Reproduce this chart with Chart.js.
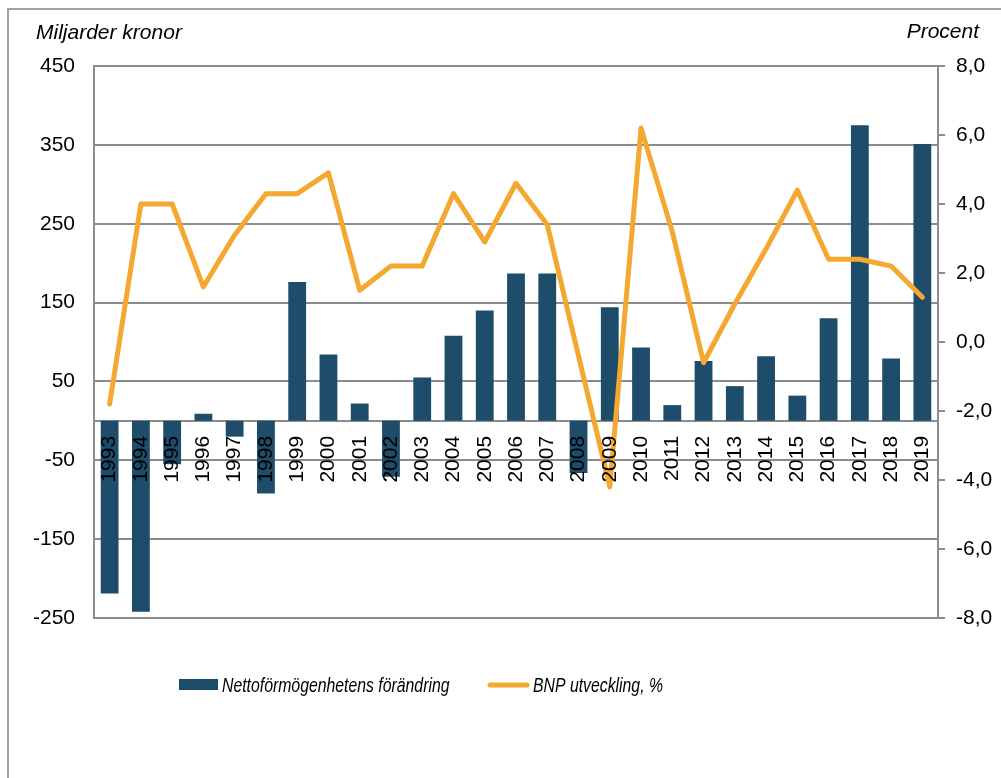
<!DOCTYPE html>
<html>
<head>
<meta charset="utf-8">
<script src="https://cdn.jsdelivr.net/npm/chart.js@4/dist/chart.umd.min.js"></script>
<style>
  html, body { margin: 0; padding: 0; background: #fff; }
  #wrap { width: 1001px; height: 778px; position: relative; }
</style>
</head>
<body>
<div id="wrap"><canvas id="chart" width="1001" height="778"></canvas></div>
<script>
// Years on the category axis
const years = [
  "1993", "1994", "1995", "1996", "1997", "1998", "1999", "2000", "2001",
  "2002", "2003", "2004", "2005", "2006", "2007", "2008", "2009", "2010",
  "2011", "2012", "2013", "2014", "2015", "2016", "2017", "2018", "2019"
];

// Nettoförmögenhetens förändring, miljarder kronor (left axis)
const netWorthChange = [
  -219, -242, -55, 9, -20, -92, 176, 84, 22,
  -71, 55, 108, 140, 187, 187, -66, 144, 93,
  20, 76, 44, 82, 32, 130, 375, 79, 351
];

// BNP utveckling, procent (right axis)
const gdpGrowth = [
  -1.8, 4.0, 4.0, 1.6, 3.1, 4.3, 4.3, 4.9, 1.5,
  2.2, 2.2, 4.3, 2.9, 4.6, 3.4, -0.4, -4.2, 6.2,
  3.2, -0.6, 1.1, 2.7, 4.4, 2.4, 2.4, 2.2, 1.3
];

const leftTitle = "Miljarder kronor";
const rightTitle = "Procent";
const barLabel = "Nettoförmögenhetens förändring";
const lineLabel = "BNP utveckling, %";

const BAR_COLOR = "#1e4d6b";
const LINE_COLOR = "#f4a82f";
const GRID_COLOR = "#8c8c8c";
const FONT = "'Liberation Sans', Arial, sans-serif";

Chart.defaults.font.family = FONT;
Chart.defaults.color = "#000";

// Frame, axis titles and the legend row are painted by hand
const decorPlugin = {
  id: "decor",
  beforeDraw(chart) {
    const ctx = chart.ctx;
    ctx.save();
    ctx.fillStyle = "#fff";
    ctx.fillRect(0, 0, chart.width, chart.height);
    ctx.strokeStyle = "#a0a0a0";
    ctx.lineWidth = 2;
    ctx.beginPath();
    ctx.moveTo(8, chart.height);
    ctx.lineTo(8, 9);
    ctx.lineTo(chart.width, 9);
    ctx.stroke();
    ctx.restore();
  },
  afterDraw(chart) {
    const ctx = chart.ctx;
    ctx.save();
    ctx.fillStyle = "#000";
    ctx.font = "italic 21px " + FONT;
    ctx.textBaseline = "alphabetic";
    ctx.textAlign = "left";
    ctx.fillText(leftTitle, 36, 39);
    ctx.textAlign = "right";
    ctx.fillText(rightTitle, 979, 38);

    // legend
    ctx.fillStyle = BAR_COLOR;
    ctx.fillRect(179, 679, 39, 11);
    ctx.strokeStyle = LINE_COLOR;
    ctx.lineWidth = 5;
    ctx.lineCap = "round";
    ctx.beginPath();
    ctx.moveTo(490, 685);
    ctx.lineTo(527, 685);
    ctx.stroke();

    ctx.fillStyle = "#000";
    ctx.font = "italic 20px " + FONT;
    ctx.textAlign = "left";
    ctx.save();
    ctx.translate(222, 692);
    ctx.scale(0.79, 1);
    ctx.fillText(barLabel, 0, 0);
    ctx.restore();
    ctx.save();
    ctx.translate(533, 692);
    ctx.scale(0.79, 1);
    ctx.fillText(lineLabel, 0, 0);
    ctx.restore();
    ctx.restore();
  }
};

new Chart(document.getElementById("chart").getContext("2d"), {
  data: {
    labels: years,
    datasets: [
      {
        type: "line",
        label: lineLabel,
        data: gdpGrowth,
        yAxisID: "y1",
        borderColor: LINE_COLOR,
        borderWidth: 5,
        borderCapStyle: "round",
        borderJoinStyle: "round",
        pointRadius: 0,
        tension: 0,
        fill: false,
        order: 0
      },
      {
        type: "bar",
        label: barLabel,
        data: netWorthChange,
        yAxisID: "y",
        backgroundColor: BAR_COLOR,
        barPercentage: 0.57,
        categoryPercentage: 1,
        order: 1
      }
    ]
  },
  options: {
    responsive: false,
    animation: false,
    layout: { padding: { left: 0, right: 0, top: 66, bottom: 160 } },
    plugins: {
      legend: { display: false },
      tooltip: { enabled: false }
    },
    scales: {
      x: {
        position: { y: 0 },
        offset: true,
        grid: { display: false, drawTicks: false },
        border: { display: true, color: GRID_COLOR, width: 2 },
        ticks: {
          z: 1,
          minRotation: 90,
          maxRotation: 90,
          autoSkip: false,
          padding: 15,
          color: "#000",
          font: { size: 21 }
        }
      },
      y: {
        position: "left",
        min: -250,
        max: 450,
        grid: { color: GRID_COLOR, lineWidth: 2, drawTicks: false },
        border: { display: true, color: GRID_COLOR, width: 2 },
        ticks: {
          stepSize: 100,
          padding: 19,
          color: "#000",
          font: { size: 21 }
        },
        afterFit(scale) { scale.width = 94; }
      },
      y1: {
        position: "right",
        min: -8,
        max: 8,
        grid: {
          drawOnChartArea: false,
          drawTicks: true,
          tickLength: 7,
          color: GRID_COLOR,
          lineWidth: 2
        },
        border: { display: true, color: GRID_COLOR, width: 2 },
        ticks: {
          stepSize: 2,
          padding: 11,
          color: "#000",
          font: { size: 21 },
          callback: v => v.toFixed(1).replace(".", ",")
        },
        afterFit(scale) { scale.width = 63; }
      }
    }
  },
  plugins: [decorPlugin]
});
</script>
</body>
</html>
